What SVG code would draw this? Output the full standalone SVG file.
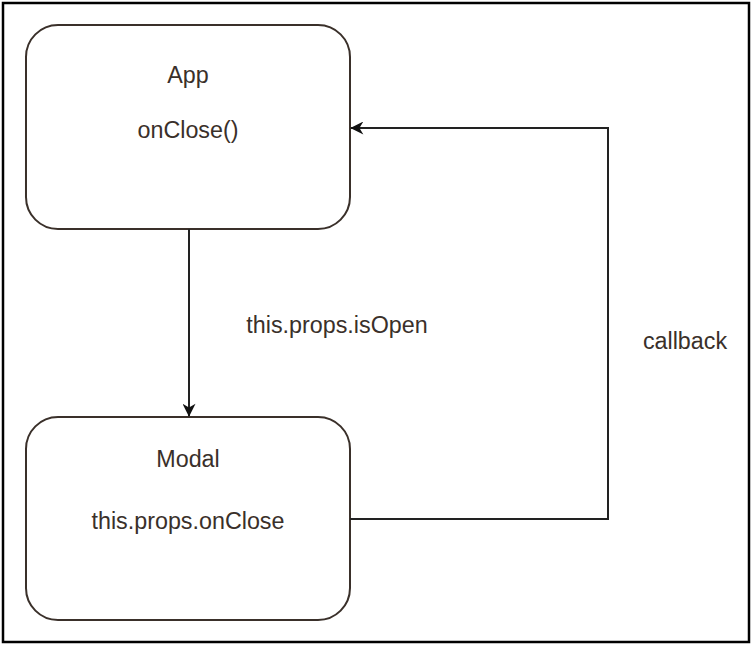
<svg xmlns="http://www.w3.org/2000/svg" width="752" height="645" viewBox="0 0 752 645">
<style>
.node{fill:#fff;stroke:#3a302a;stroke-width:2}
.lbl{font-family:"Liberation Sans",Arial,sans-serif;font-size:23.3px;fill:#3a302a;text-anchor:middle}
.edge{fill:none;stroke:#222;stroke-width:2}
</style>
<defs>
<marker id="ah" viewBox="0 0 10 10" refX="9.5" refY="5" markerWidth="15" markerHeight="13" markerUnits="userSpaceOnUse" orient="auto">
<path d="M0,0 L10,5 L0,10 L3,5 Z" fill="#111"/>
</marker>
</defs>
<rect x="0" y="0" width="752" height="645" fill="#fff"/>
<rect x="3" y="3" width="746" height="639" fill="none" stroke="#000" stroke-width="2.5"/>
<g id="app">
<rect class="node" x="26" y="25" width="324" height="204" rx="32" ry="32"/>
<text class="lbl" x="188" y="83">App</text>
<text class="lbl" x="188" y="138">onClose()</text>
</g>
<g id="modal">
<rect class="node" x="26" y="417" width="324" height="203" rx="32" ry="32"/>
<text class="lbl" x="188" y="467">Modal</text>
<text class="lbl" x="188" y="529">this.props.onClose</text>
</g>
<g id="connectors">
<path class="edge" d="M189,229 L189,416" marker-end="url(#ah)"/>
<path class="edge" d="M350,519 L608,519 L608,128 L351,128" marker-end="url(#ah)"/>
<text class="lbl" x="337" y="333">this.props.isOpen</text>
<text class="lbl" x="685" y="349">callback</text>
</g>
</svg>
